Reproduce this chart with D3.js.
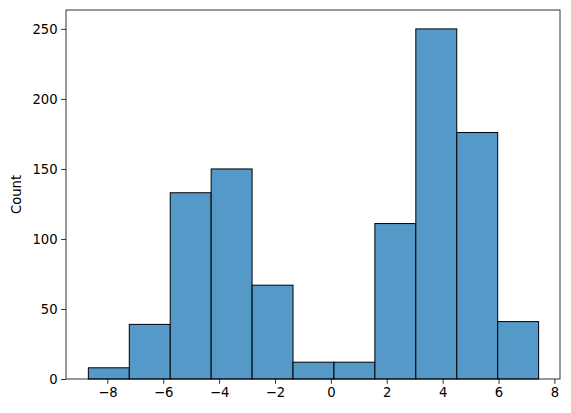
<!DOCTYPE html>
<html><head><meta charset="utf-8">
<script src="https://cdn.jsdelivr.net/npm/d3@7"></script>
<style>body{margin:0;background:#fff;font-family:"DejaVu Sans",sans-serif;}</style>
</head><body><div id="chart"></div>
<script>
// bin edges and counts
const binStart = -8.68;
const binWidth = 1.465;
const counts = [8, 39, 133, 150, 67, 12, 12, 111, 250, 176, 41];
const xTicks = [-8, -6, -4, -2, 0, 2, 4, 6, 8];
const yTicks = [0, 50, 100, 150, 200, 250];

let margin = {top: 10, right: 11, bottom: 34, left: 66};
let width = 571 - margin.left - margin.right;
let height = 413 - margin.top - margin.bottom;

let svg = d3.select("#chart").append("svg")
    .attr("width", 571).attr("height", 413)
    .append("g")
    .attr("transform", `translate(${margin.left},${margin.top})`);

let x = d3.scaleLinear().domain([-9.48, 8.2]).range([0, width]);
let y = d3.scaleLinear().domain([0, 263.5]).range([height, 0]);

svg.selectAll("rect.bar")
    .data(counts)
    .enter().append("rect")
    .attr("class", "bar")
    .attr("x", (d, i) => x(binStart + i * binWidth))
    .attr("width", x(binWidth) - x(0))
    .attr("y", d => y(d))
    .attr("height", d => y(0) - y(d))
    .style("fill", "rgb(84,153,199)")
    .attr("stroke", "black").attr("stroke-width", 1);

let xAxis = svg.append("g").attr("transform", `translate(0,${height})`)
    .call(d3.axisBottom(x).tickValues(xTicks).tickSize(4.9).tickPadding(3.5).tickFormat(d => d < 0 ? "\u2212" + Math.abs(d) : d));
let yAxis = svg.append("g")
    .call(d3.axisLeft(y).tickValues(yTicks).tickSize(4.9).tickPadding(3.5));
[xAxis, yAxis].forEach(a => {
    a.select(".domain").remove();
    a.selectAll("text").attr("font-size", 13.2).attr("font-family", "DejaVu Sans").attr("fill", "#000");
    a.selectAll("line").attr("stroke", "#000").attr("stroke-width", 0.8);
});

svg.append("rect").attr("width", width).attr("height", height)
    .attr("fill", "none").attr("stroke", "#000").attr("stroke-width", 0.8);

svg.append("text")
    .attr("transform", `translate(-45,${height / 2}) rotate(-90)`)
    .attr("text-anchor", "middle")
    .attr("font-size", 13.2).attr("font-family", "DejaVu Sans")
    .text("Count");
</script></body></html>
